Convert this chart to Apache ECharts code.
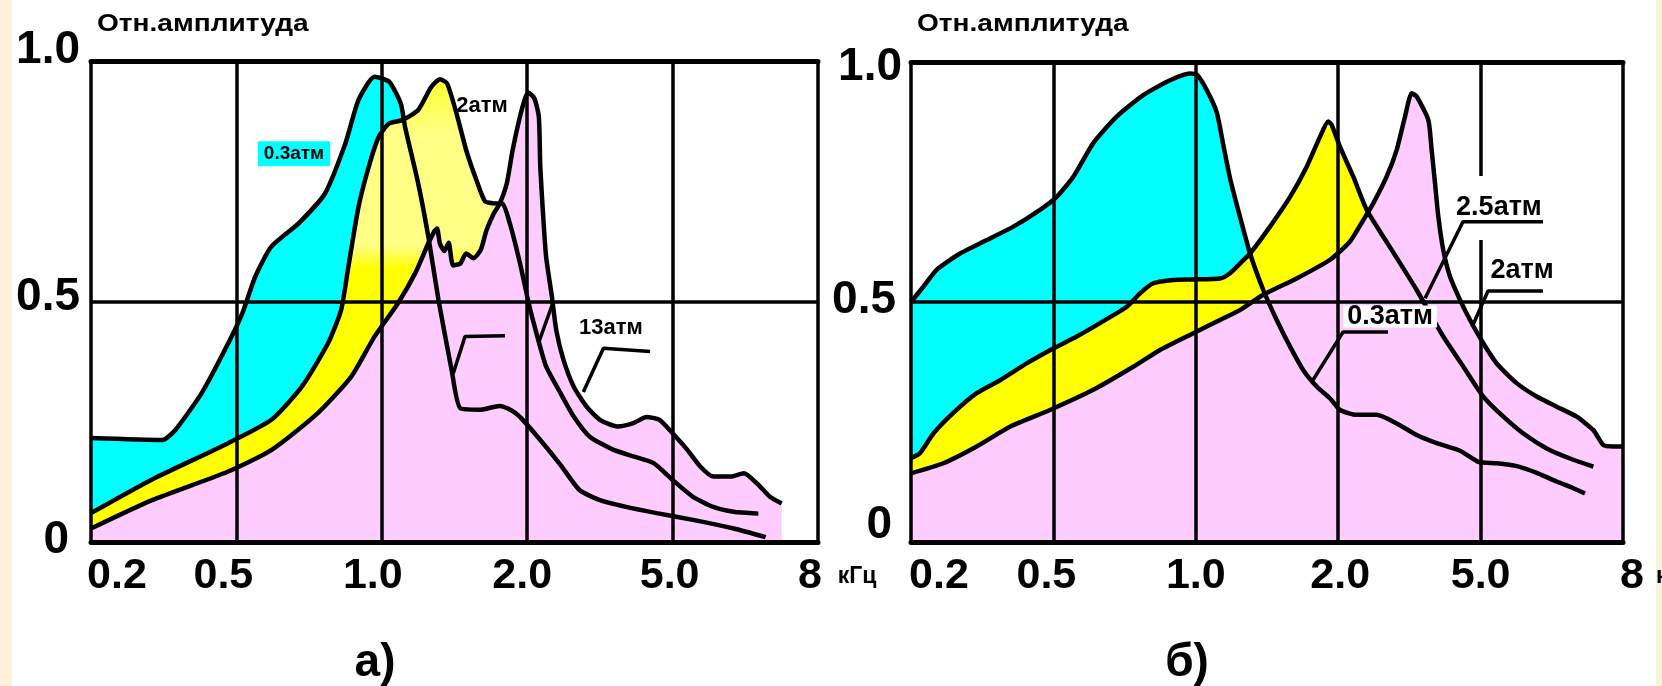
<!DOCTYPE html>
<html>
<head>
<meta charset="utf-8">
<script src="https://cdn.jsdelivr.net/npm/echarts@6/dist/echarts.min.js"></script>
<style>
html,body{margin:0;padding:0;background:#fff;}
#chart{width:1662px;height:686px;}
</style>
</head>
<body>
<div id="chart"></div>
<script>
// ---------- DATA ----------
// x values are positions on the (non-linear) frequency scale: 0..5 -> ticks below
const FREQ_TICKS = ['0.2', '0.5', '1.0', '2.0', '5.0', '8'];
const AMP_TICKS = ['0', '0.5', '1.0'];
const Y_TITLE = 'Отн.амплитуда';
const X_UNIT = 'кГц';
const PANEL_NAMES = ['а)', 'б)'];

// Panel а
const a_p03 = [[0,0.216],[0.49,0.212],[0.58,0.233],[0.76,0.309],[0.92,0.399],[1.04,0.475],[1.13,0.552],[1.24,0.614],[1.43,0.663],[1.61,0.725],[1.75,0.829],[1.84,0.919],[1.95,0.967],[2.05,0.957],[2.13,0.912],[2.16,0.863],[2.25,0.746],[2.32,0.635],[2.39,0.503],[2.48,0.358],[2.54,0.278],[2.68,0.275],[2.81,0.283],[2.89,0.274],[2.95,0.26],[3.09,0.212],[3.23,0.16],[3.36,0.108],[3.5,0.087],[3.68,0.073],[3.89,0.06],[4.14,0.046],[4.42,0.028],[4.64,0.01]];
const a_p2 = [[0,0.06],[0.42,0.13],[0.94,0.205],[1.24,0.254],[1.45,0.323],[1.63,0.413],[1.72,0.482],[1.77,0.572],[1.84,0.697],[1.91,0.78],[1.98,0.843],[2.05,0.87],[2.14,0.877],[2.25,0.898],[2.34,0.946],[2.40,0.962],[2.45,0.953],[2.52,0.884],[2.58,0.815],[2.65,0.753],[2.71,0.708],[2.77,0.704],[2.83,0.703],[2.88,0.663],[2.95,0.58],[3.01,0.497],[3.07,0.427],[3.13,0.365],[3.23,0.309],[3.32,0.261],[3.43,0.219],[3.59,0.192],[3.73,0.178],[3.87,0.164],[4.0,0.129],[4.14,0.094],[4.28,0.073],[4.42,0.063],[4.59,0.059]];
const a_p13 = [[0,0.028],[0.42,0.087],[0.94,0.146],[1.24,0.191],[1.56,0.268],[1.79,0.344],[1.95,0.427],[2.11,0.496],[2.23,0.559],[2.32,0.621],[2.36,0.645],[2.38,0.652],[2.40,0.62],[2.43,0.605],[2.46,0.622],[2.49,0.575],[2.54,0.579],[2.58,0.6],[2.63,0.59],[2.68,0.607],[2.72,0.648],[2.77,0.683],[2.81,0.703],[2.86,0.746],[2.90,0.815],[2.95,0.884],[2.99,0.926],[3.01,0.934],[3.05,0.922],[3.08,0.884],[3.09,0.78],[3.11,0.677],[3.13,0.593],[3.17,0.51],[3.20,0.44],[3.25,0.378],[3.32,0.323],[3.41,0.281],[3.50,0.254],[3.62,0.24],[3.73,0.247],[3.82,0.26],[3.91,0.254],[4.0,0.226],[4.10,0.192],[4.19,0.157],[4.28,0.136],[4.40,0.136],[4.49,0.143],[4.58,0.122],[4.67,0.094],[4.75,0.08]];

// Panel б
const b_p03 = [[0,0.5],[0.087,0.532],[0.18,0.567],[0.344,0.601],[0.531,0.629],[0.719,0.657],[0.906,0.692],[1.023,0.719],[1.14,0.761],[1.28,0.831],[1.444,0.886],[1.631,0.931],[1.819,0.962],[1.959,0.976],[2.006,0.974],[2.076,0.942],[2.147,0.895],[2.194,0.826],[2.241,0.757],[2.31,0.678],[2.381,0.601],[2.474,0.525],[2.568,0.4625],[2.662,0.407],[2.755,0.358],[2.849,0.324],[2.943,0.299],[3.013,0.275],[3.13,0.265],[3.27,0.265],[3.411,0.247],[3.551,0.223],[3.692,0.206],[3.856,0.19],[3.984,0.167],[4.113,0.164],[4.253,0.158],[4.394,0.144],[4.534,0.126],[4.651,0.112],[4.733,0.101]];
const b_p25 = [[0,0.175],[0.063,0.185],[0.157,0.226],[0.297,0.269],[0.461,0.31],[0.625,0.337],[0.812,0.372],[0.999,0.403],[1.163,0.428],[1.327,0.456],[1.515,0.49],[1.608,0.518],[1.702,0.539],[1.842,0.546],[1.983,0.547],[2.17,0.549],[2.24,0.56],[2.31,0.58],[2.381,0.601],[2.521,0.657],[2.662,0.719],[2.779,0.782],[2.872,0.844],[2.93,0.876],[2.954,0.869],[3.013,0.823],[3.106,0.761],[3.2,0.692],[3.317,0.636],[3.434,0.581],[3.551,0.525],[3.645,0.476],[3.738,0.428],[3.879,0.365],[4.019,0.303],[4.16,0.261],[4.3,0.226],[4.464,0.195],[4.628,0.174],[4.792,0.157]];
const b_p2 = [[0,0.143],[0.227,0.164],[0.461,0.199],[0.695,0.24],[0.976,0.275],[1.28,0.317],[1.561,0.365],[1.749,0.4],[1.983,0.435],[2.17,0.4625],[2.31,0.483],[2.474,0.515],[2.708,0.549],[2.943,0.588],[3.083,0.626],[3.177,0.671],[3.247,0.706],[3.34,0.761],[3.411,0.817],[3.469,0.886],[3.516,0.935],[3.551,0.928],[3.633,0.879],[3.656,0.817],[3.68,0.747],[3.703,0.678],[3.738,0.608],[3.785,0.553],[3.856,0.504],[3.926,0.4625],[4.019,0.414],[4.113,0.372],[4.253,0.331],[4.394,0.303],[4.534,0.282],[4.675,0.261],[4.792,0.233],[4.862,0.202],[4.932,0.199],[5,0.199]];

// curve labels (text, anchor in data units) and leader lines
const a_labelText = ['0.3атм', '2атм', '13атм'];
const a_labelAt = [[1.396,0.807],[2.689,0.906],[3.576,0.445]];
const a_leaders = [
  [[3.386,0.312],[3.524,0.403],[3.845,0.396]],
  [[2.492,0.351],[2.572,0.427],[2.847,0.429]],
  [[3.077,0.413],[3.18,0.5]]
];
const b_labelText = ['2.5атм', '2атм', '0.3атм'];
const b_labelAt = [[4.129,0.696],[4.291,0.565],[3.365,0.47]];
const b_leaders = [
  [[4.438,0.667],[3.876,0.667],[3.61,0.508]],
  [[4.438,0.523],[4.052,0.523],[3.94,0.448]],
  [[3.35,0.4375],[3.034,0.4375],[2.823,0.3375]]
];

// ---------- STYLE ----------
const CYAN = '#00FFFF', YELLOW = '#FFFF00', PINK = '#FFCCFF';
const FONT = '"Liberation Sans", Arial, sans-serif';
const SM = 0.2;

const chart = echarts.init(document.getElementById('chart'), null, {renderer: 'canvas'});

function xRich(pads) {
  const r = {};
  pads.forEach((p, i) => {
    r['x' + i] = {fontFamily: FONT, fontWeight: 'bold', fontSize: 43, color: '#000', lineHeight: 44, padding: p};
  });
  return r;
}
function yRich(pads) {
  const r = {};
  pads.forEach((p, i) => {
    r['y' + i] = {fontFamily: FONT, fontWeight: 'bold', fontSize: 46, color: '#000', lineHeight: 46, padding: p};
  });
  return r;
}

function bottomX(grid, pads) {
  return {
    type: 'value', gridIndex: grid, min: 0, max: 5, interval: 1, z: 5,
    axisLine: {show: true, onZero: false, lineStyle: {color: '#000', width: 5}},
    axisTick: {show: false},
    splitLine: {show: true, lineStyle: {color: '#000', width: 3.5}},
    axisLabel: {
      show: true, margin: 12, showMinLabel: true, showMaxLabel: true, hideOverlap: false,
      formatter: (v) => { const i = Math.round(v); return '{x' + i + '|' + FREQ_TICKS[i] + '}'; },
      rich: xRich(pads)
    }
  };
}
function topX(grid) {
  return {
    type: 'value', gridIndex: grid, position: 'top', min: 0, max: 5, interval: 1, z: 5,
    axisLine: {show: true, onZero: false, lineStyle: {color: '#000', width: 5}},
    axisTick: {show: false}, axisLabel: {show: false}, splitLine: {show: false}
  };
}
function yAx(grid, margin, pads) {
  return {
    type: 'value', gridIndex: grid, min: 0, max: 1, interval: 0.5, z: 5,
    axisLine: {show: false}, axisTick: {show: false},
    splitLine: {show: true, lineStyle: {color: '#000', width: 3.5}},
    axisLabel: {
      show: true, margin: margin, showMinLabel: true, showMaxLabel: true,
      formatter: (v) => { const i = Math.round(v * 2); return '{y' + i + '|' + AMP_TICKS[i] + '}'; },
      rich: yRich(pads)
    }
  };
}

function area(data, color, xi, yi, z) {
  return {type: 'line', xAxisIndex: xi, yAxisIndex: yi, data: data, smooth: SM, symbol: 'none',
    lineStyle: {width: 0, opacity: 0}, areaStyle: {color: color, opacity: 1}, z: z, silent: true, animation: false};
}
function curve(data, xi, yi) {
  return {type: 'line', xAxisIndex: xi, yAxisIndex: yi, data: data, smooth: SM, symbol: 'none',
    lineStyle: {color: '#000', width: 4.5}, z: 4, silent: true, animation: false};
}
function leader(data, xi, yi) {
  return {type: 'line', xAxisIndex: xi, yAxisIndex: yi, data: data, smooth: false, symbol: 'none',
    lineStyle: {color: '#000', width: 3.5}, z: 11, silent: true, animation: false};
}
function labels(texts, at, styles, xi, yi) {
  return {
    type: 'scatter', xAxisIndex: xi, yAxisIndex: yi, symbolSize: 0, z: 10, silent: true, animation: false,
    itemStyle: {color: '#000', opacity: 1},
    data: at.map((p, i) => ({
      value: p,
      label: Object.assign({show: true, position: 'inside', formatter: texts[i], color: '#000',
        fontFamily: FONT, fontWeight: 'bold', textBorderWidth: 0, opacity: 1}, styles[i])
    }))
  };
}

const yellowGrad = {type: 'linear', x: 0, y: 0, x2: 0, y2: 1, colorStops: [
  {offset: 0, color: '#FFFF30'}, {offset: 0.12, color: '#FFFF85'}, {offset: 0.36, color: '#FFFF85'},
  {offset: 0.41, color: YELLOW}, {offset: 1, color: YELLOW}]};

const titleStyle = {fill: '#000', font: 'bold 24px ' + FONT, verticalAlign: 'middle', align: 'left'};

const option = {
  backgroundColor: '#fff',
  animation: false,
  grid: [
    {left: 91, right: 1662 - 818, top: 61, bottom: 686 - 542, outerBoundsMode: 'none'},
    {left: 911, right: 1662 - 1623, top: 62, bottom: 686 - 542, outerBoundsMode: 'none'}
  ],
  xAxis: [
    bottomX(0, [[0,0,0,52],[0,26,0,0],[0,18,0,0],[0,10,0,0],[0,6,0,0],[0,16,0,0]]),
    topX(0),
    bottomX(1, [[0,0,0,56],[0,14,0,0],[0,0,0,0],[0,0,0,4],[0,0,0,0],[0,0,0,18]]),
    topX(1)
  ],
  yAxis: [
    yAx(0, 11, [[0,11,4,0],[0,0,8,0],[0,0,22,0]]),
    yAx(1, 9, [[0,10,34,0],[0,6,4,0],[10,0,0,0]])
  ],
  series: [
    // panel а
    area(a_p03, CYAN, 0, 0, 1),
    area(a_p2, yellowGrad, 0, 0, 2),
    area(a_p13, PINK, 0, 0, 3),
    curve(a_p03, 0, 0), curve(a_p2, 0, 0), curve(a_p13, 0, 0),
    labels(a_labelText, a_labelAt, [
      {fontSize: 19, backgroundColor: CYAN, padding: [3, 6, 3, 6], lineHeight: 19},
      {fontSize: 22},
      {fontSize: 22}
    ], 0, 0),
    ...a_leaders.map(l => leader(l, 0, 0)),
    // panel б
    area(b_p03, CYAN, 2, 1, 1),
    area(b_p25, YELLOW, 2, 1, 2),
    area(b_p2, PINK, 2, 1, 3),
    curve(b_p03, 2, 1), curve(b_p25, 2, 1), curve(b_p2, 2, 1),
    labels(b_labelText, b_labelAt, [
      {fontSize: 27, backgroundColor: '#fff', padding: [10, 4, 30, 4], lineHeight: 24},
      {fontSize: 27},
      {fontSize: 27, backgroundColor: '#fff', padding: [0, 4, 0, 4], lineHeight: 22}
    ], 2, 1),
    ...b_leaders.map(l => leader(l, 2, 1))
  ],
  graphic: [
    {type: 'rect', left: 0, top: 0, z: 0, shape: {width: 12, height: 686}, style: {fill: '#FCF2DA'}, silent: true},
    {type: 'rect', left: 1656, top: 0, z: 0, shape: {width: 6, height: 686}, style: {fill: '#FCF2DA'}, silent: true},
    {type: 'text', x: 97, y: 24, scaleX: 1.17, z: 20, style: Object.assign({text: Y_TITLE}, titleStyle)},
    {type: 'text', x: 917, y: 24, scaleX: 1.17, z: 20, style: Object.assign({text: Y_TITLE}, titleStyle)},
    {type: 'text', x: 857, y: 577, z: 20, style: {text: X_UNIT, fill: '#000', font: 'bold 23px ' + FONT, verticalAlign: 'middle', align: 'center'}},
    {type: 'text', x: 1656, y: 577, z: 20, style: {text: X_UNIT, fill: '#000', font: 'bold 23px ' + FONT, verticalAlign: 'middle', align: 'left'}},
    {type: 'text', x: 375, y: 663, z: 20, style: {text: PANEL_NAMES[0], fill: '#000', font: 'bold 46px ' + FONT, verticalAlign: 'middle', align: 'center'}},
    {type: 'text', x: 1187, y: 663, z: 20, style: {text: PANEL_NAMES[1], fill: '#000', font: 'bold 46px ' + FONT, verticalAlign: 'middle', align: 'center'}}
  ]
};
chart.setOption(option);
</script>
</body>
</html>
